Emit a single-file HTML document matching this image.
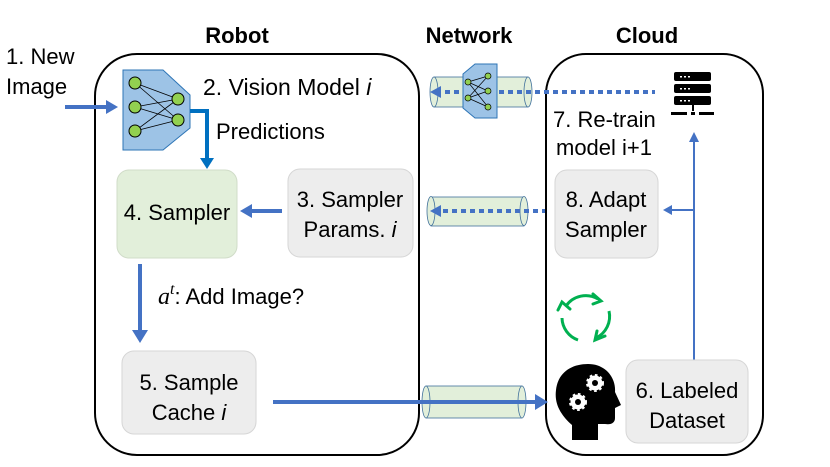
<!DOCTYPE html>
<html><head><meta charset="utf-8"><style>
html,body{margin:0;padding:0;background:#fff}
svg{display:block}
text{font-family:"Liberation Sans",sans-serif;fill:#000}
</style></head><body>
<svg width="830" height="467" viewBox="0 0 830 467" xmlns="http://www.w3.org/2000/svg">
<!-- headings -->
<text x="237" y="43" font-size="22" font-weight="bold" text-anchor="middle">Robot</text>
<text x="469" y="43" font-size="22" font-weight="bold" text-anchor="middle">Network</text>
<text x="647" y="43" font-size="22" font-weight="bold" text-anchor="middle">Cloud</text>
<text x="6" y="64" font-size="22">1. New</text>
<text x="6" y="94" font-size="22">Image</text>
<!-- main boxes -->
<rect x="95" y="54" width="324" height="401" rx="42" fill="none" stroke="#000" stroke-width="2"/>
<rect x="546" y="54" width="217" height="401" rx="40" fill="none" stroke="#000" stroke-width="2"/>
<!-- input arrow -->
<line x1="65" y1="107" x2="108" y2="107" stroke="#4472c4" stroke-width="4"/>
<path d="M106,100 L118,107 L106,114 Z" fill="#4472c4"/>
<!-- vision model icon -->
<path d="M123,70 L163,70 L190,95 L190,128 L163,150 L123,150 Z" fill="#9dc3e6" stroke="#2e75b6" stroke-width="1"/>
<g stroke="#000" stroke-width="0.8">
<line x1="135" y1="83" x2="178" y2="99"/><line x1="135" y1="83" x2="178" y2="120"/>
<line x1="135" y1="107" x2="178" y2="99"/><line x1="135" y1="107" x2="178" y2="120"/>
<line x1="135" y1="131" x2="178" y2="99"/><line x1="135" y1="131" x2="178" y2="120"/>
</g>
<g fill="#92d050" stroke="#000" stroke-width="1">
<ellipse cx="135" cy="83" rx="6" ry="6"/><ellipse cx="135" cy="107" rx="6" ry="6"/><ellipse cx="135" cy="131" rx="6" ry="6"/>
<ellipse cx="178" cy="99" rx="6" ry="6"/><ellipse cx="178" cy="120" rx="6" ry="6"/>
</g>
<text x="203" y="95" font-size="23">2.  Vision Model <tspan font-style="italic">i</tspan></text>
<path d="M190,111 L207,111 L207,160" fill="none" stroke="#0070c0" stroke-width="4"/>
<path d="M200,158 L207,169 L214,158 Z" fill="#0070c0"/>
<text x="216" y="139" font-size="22">Predictions</text>
<!-- boxes -->
<rect x="117" y="170" width="120" height="88" rx="12" fill="#e2efda" stroke="#d0dcc8"/>
<text x="177" y="220" font-size="22" text-anchor="middle">4. Sampler</text>
<rect x="288" y="169" width="125" height="88" rx="12" fill="#ededed" stroke="#d6d6d6"/>
<text x="350" y="207" font-size="22" text-anchor="middle">3. Sampler</text>
<text x="350" y="237" font-size="22" text-anchor="middle">Params. <tspan font-style="italic">i</tspan></text>
<line x1="282" y1="211" x2="250" y2="211" stroke="#4472c4" stroke-width="4"/>
<path d="M252,204 L240,211 L252,218 Z" fill="#4472c4"/>
<line x1="140" y1="264" x2="140" y2="333" stroke="#4472c4" stroke-width="4"/>
<path d="M132,330 L140,343 L148,330 Z" fill="#4472c4"/>
<text x="158" y="304" font-size="22"><tspan font-family="Liberation Serif" font-style="italic" font-size="24">a</tspan><tspan font-family="Liberation Serif" font-style="italic" font-size="16" dy="-10">t</tspan><tspan dy="10">: Add Image?</tspan></text>
<rect x="122" y="351" width="134" height="83" rx="12" fill="#ededed" stroke="#d6d6d6"/>
<text x="189" y="390" font-size="22" text-anchor="middle">5. Sample</text>
<text x="189" y="420" font-size="22" text-anchor="middle">Cache <tspan font-style="italic">i</tspan></text>
<!-- bottom pipe -->
<rect x="426" y="386" width="96" height="32" fill="#e2efda" stroke="#41719c" stroke-width="0.8"/>
<ellipse cx="426" cy="402" rx="4" ry="16" fill="#e2efda" stroke="#41719c" stroke-width="0.8"/>
<ellipse cx="522" cy="402" rx="4" ry="16" fill="#e2efda" stroke="#41719c" stroke-width="0.8"/>
<line x1="273" y1="402" x2="538" y2="402" stroke="#4472c4" stroke-width="4"/>
<path d="M535,394 L548,402 L535,410 Z" fill="#4472c4"/>
<!-- top pipe -->
<rect x="434" y="77" width="94" height="30" fill="#e2efda" stroke="#41719c" stroke-width="0.8"/>
<ellipse cx="434" cy="92" rx="4" ry="15" fill="#e2efda" stroke="#41719c" stroke-width="0.8"/>
<ellipse cx="528" cy="92" rx="4" ry="15" fill="#e2efda" stroke="#41719c" stroke-width="0.8"/>
<line x1="445" y1="92" x2="655" y2="92" stroke="#4472c4" stroke-width="4" stroke-dasharray="5,4"/>
<path d="M441,86 L430,92 L441,98 Z" fill="#4472c4"/>
<path d="M463,74 L475,64 L497,64 L497,118 L475,118 L463,108 Z" fill="#9dc3e6" stroke="#2e75b6" stroke-width="1"/>
<g stroke="#000" stroke-width="0.7"><line x1="468" y1="82" x2="488" y2="76"/><line x1="468" y1="82" x2="488" y2="91"/><line x1="468" y1="98" x2="488" y2="91"/><line x1="468" y1="98" x2="488" y2="107"/><line x1="468" y1="82" x2="488" y2="107"/><line x1="468" y1="98" x2="488" y2="76"/></g>
<g fill="#92d050" stroke="#000" stroke-width="0.7"><circle cx="468" cy="82" r="3"/><circle cx="468" cy="98" r="3"/><circle cx="488" cy="76" r="3"/><circle cx="488" cy="91" r="3"/><circle cx="488" cy="107" r="3"/></g>
<!-- middle pipe -->
<rect x="431" y="197" width="93" height="29" fill="#e2efda" stroke="#41719c" stroke-width="0.8"/>
<ellipse cx="431" cy="211" rx="4" ry="14.5" fill="#e2efda" stroke="#41719c" stroke-width="0.8"/>
<ellipse cx="524" cy="211" rx="4" ry="14.5" fill="#e2efda" stroke="#41719c" stroke-width="0.8"/>
<line x1="443" y1="211" x2="545" y2="211" stroke="#4472c4" stroke-width="4" stroke-dasharray="5,4"/>
<path d="M441,205 L430,211 L441,217 Z" fill="#4472c4"/>
<!-- server icon -->
<g fill="#000">
<rect x="674" y="72" width="37" height="9" rx="2"/><rect x="674" y="84" width="37" height="9" rx="2"/><rect x="674" y="96" width="37" height="9" rx="2"/>
<rect x="692" y="105" width="2" height="6"/>
<rect x="671" y="112" width="16" height="3"/><rect x="691" y="112" width="4" height="3"/><rect x="699" y="112" width="15" height="3"/>
</g>
<g fill="#fff"><rect x="680" y="76" width="2" height="1.5"/><rect x="684" y="76" width="2" height="1.5"/><rect x="688" y="76" width="2" height="1.5"/>
<rect x="680" y="88" width="2" height="1.5"/><rect x="684" y="88" width="2" height="1.5"/><rect x="688" y="88" width="2" height="1.5"/>
<rect x="680" y="100" width="2" height="1.5"/><rect x="684" y="100" width="2" height="1.5"/><rect x="688" y="100" width="2" height="1.5"/></g>
<text x="553" y="127" font-size="22">7. Re-train</text>
<text x="556" y="155" font-size="22">model i+1</text>
<rect x="555" y="170" width="103" height="88" rx="12" fill="#ededed" stroke="#d6d6d6"/>
<text x="606" y="207" font-size="22" text-anchor="middle">8. Adapt</text>
<text x="606" y="237" font-size="22" text-anchor="middle">Sampler</text>
<!-- vertical line -->
<line x1="694" y1="360" x2="694" y2="140" stroke="#4472c4" stroke-width="2"/>
<path d="M689,142 L694,132 L699,142 Z" fill="#4472c4"/>
<line x1="694" y1="210" x2="670" y2="210" stroke="#4472c4" stroke-width="2"/>
<path d="M672,205 L663,210 L672,215 Z" fill="#4472c4"/>
<rect x="626" y="360" width="122" height="83" rx="12" fill="#ededed" stroke="#d6d6d6"/>
<text x="687" y="398" font-size="22" text-anchor="middle">6. Labeled</text>
<text x="687" y="428" font-size="22" text-anchor="middle">Dataset</text>
<!-- recycle -->
<g fill="none" stroke="#00b050" stroke-width="3">
<path d="M566,306 A24,24 0 0 1 598,299"/>
<path d="M609,311 A24,24 0 0 1 596,338"/>
<path d="M578,340 A24,24 0 0 1 562,318"/>
</g>
<g fill="none" stroke="#00b050" stroke-width="3" stroke-linecap="round">
<path d="M593,294 L601,301 L593,304"/>
<path d="M605,336 L595,340 L597,331"/>
<path d="M558,310 L562,302 L570,309"/>
</g>
<!-- head -->
<path d="M572,440 L572,425 C562,416 554,405 556,390 C558,372 572,364 588,364 C606,364 616,378 615,392 L621,405 L615,408 L615,418 C615,423 611,425 605,424 L598,424 L598,440 Z" fill="#000"/>
<g fill="#fff" stroke="#fff" stroke-width="3" stroke-dasharray="2.5,2.5">
<circle cx="595" cy="383" r="7.5"/><circle cx="578" cy="402" r="7.5"/>
</g>
<g fill="#000"><circle cx="595" cy="383" r="3"/><circle cx="578" cy="402" r="3"/></g>
</svg>
</body></html>
